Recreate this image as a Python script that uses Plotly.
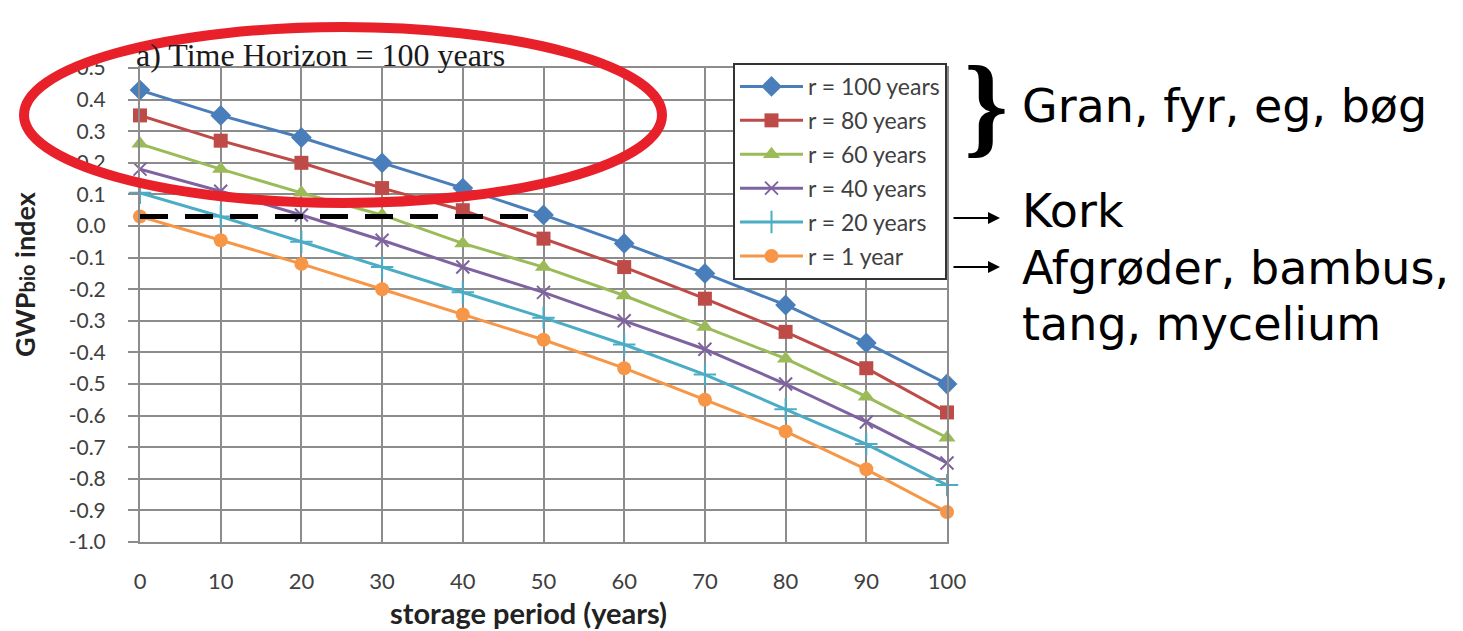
import plotly.graph_objects as go

# ---------------- data ----------------
storage_years = [0, 10, 20, 30, 40, 50, 60, 70, 80, 90, 100]

r100 = [0.43, 0.35, 0.28, 0.20, 0.12, 0.035, -0.055, -0.15, -0.25, -0.37, -0.50]
r80 = [0.35, 0.27, 0.20, 0.12, 0.05, -0.04, -0.13, -0.23, -0.335, -0.45, -0.59]
r60 = [0.26, 0.18, 0.105, 0.035, -0.055, -0.13, -0.22, -0.32, -0.42, -0.54, -0.67]
r40 = [0.18, 0.11, 0.035, -0.045, -0.13, -0.21, -0.30, -0.39, -0.50, -0.62, -0.75]
r20 = [0.105, 0.03, -0.05, -0.13, -0.21, -0.29, -0.375, -0.47, -0.58, -0.69, -0.82]
r1 = [0.03, -0.045, -0.12, -0.20, -0.28, -0.36, -0.45, -0.55, -0.65, -0.77, -0.905]

series_names = ["r = 100 years", "r = 80 years", "r = 60 years",
                "r = 40 years", "r = 20 years", "r = 1 year"]

kork_x = [0, 50]
kork_y = [0.03, 0.03]

y_tick_vals = [0.5, 0.4, 0.3, 0.2, 0.1, 0.0, -0.1, -0.2, -0.3, -0.4,
               -0.5, -0.6, -0.7, -0.8, -0.9, -1.0]
y_tick_text = ["0.5", "0.4", "0.3", "0.2", "0.1", "0.0", "-0.1", "-0.2", "-0.3",
               "-0.4", "-0.5", "-0.6", "-0.7", "-0.8", "-0.9", "-1.0"]
x_tick_vals = [0, 10, 20, 30, 40, 50, 60, 70, 80, 90, 100]
x_tick_text = ["0", "10", "20", "30", "40", "50", "60", "70", "80", "90", "100"]

title_text = "a) Time Horizon = 100 years"
x_title = "storage period (years)"
y_title = "<b>GWP<span style='font-size:20px'>bio</span> index</b>"
note_wood = "Gran, fyr, eg, bøg"
note_cork = "Kork"
note_crops_1 = "Afgrøder, bambus,"
note_crops_2 = "tang, mycelium"

# ---------------- styles ----------------
colors = ["#4A7EBB", "#BE4B48", "#9BBB59", "#7F63A1", "#4BACC6", "#F79646"]
symbols = ["diamond", "square", "triangle-up", "x-thin-open", "cross-thin-open", "circle"]
sizes = [16, 14, 15, 13, 16, 14]

FONT = "Lato"
NOTE_FONT = "DejaVu Sans"
grid_color = "#8C8C8C"

W, H = 1463, 631
L, R, T, B = 140, 516, 68, 89
PW, PH = W - L - R, H - T - B


def px(xpix):
    return (xpix - L) / PW


def py(ypix):
    return (H - B - ypix) / PH


fig = go.Figure()

all_series = [r100, r80, r60, r40, r20, r1]
for i, (name, vals) in enumerate(zip(series_names, all_series)):
    thin = symbols[i].endswith("-open")
    fig.add_trace(go.Scatter(
        x=storage_years, y=vals, name=name, mode="lines+markers",
        legendgroup=f"g{i}",
        line=dict(color=colors[i], width=3),
        marker=dict(symbol=symbols[i], size=sizes[i], color=colors[i],
                    line=dict(color=colors[i], width=2 if thin else 0)),
        cliponaxis=False,
    ))

fig.add_trace(go.Scatter(
    x=kork_x, y=kork_y, mode="lines", showlegend=False,
    line=dict(color="black", width=5, dash="28px,17px"),
    cliponaxis=False,
))

fig.update_layout(
    width=W, height=H,
    paper_bgcolor="white", plot_bgcolor="white",
    margin=dict(l=L, r=R, t=T, b=B),
    font=dict(family=FONT, color="#404040"),
    legend=dict(
        x=1.0, xanchor="right", y=py(63), yanchor="top",
        bgcolor="white", bordercolor="#333333", borderwidth=2,
        font=dict(family=FONT, size=23, color="#404040"),
        tracegroupgap=1, itemwidth=63,
    ),
    showlegend=True,
)

fig.update_xaxes(
    range=[0, 100], tickvals=x_tick_vals, ticktext=x_tick_text,
    showgrid=True, gridcolor=grid_color, gridwidth=2,
    showline=True, mirror=True, linecolor=grid_color, linewidth=2,
    zeroline=False, ticks="", ticklabelstandoff=19,
    tickfont=dict(family=FONT, size=22, color="#404040"),
)
fig.update_yaxes(
    range=[-1.0, 0.5], tickvals=y_tick_vals, ticktext=y_tick_text,
    showgrid=True, gridcolor=grid_color, gridwidth=2,
    showline=True, mirror=True, linecolor=grid_color, linewidth=2,
    zeroline=False, ticks="outside", ticklen=10, tickwidth=2, tickcolor=grid_color,
    ticklabelstandoff=18,
    tickfont=dict(family=FONT, size=21, color="#404040"),
)

# title
fig.add_annotation(text=title_text, xref="paper", yref="paper",
                   x=px(134), y=py(55), xanchor="left", yanchor="middle", showarrow=False,
                   font=dict(family="Liberation Serif", size=32, color="#1a1a1a"))
# axis titles
fig.add_annotation(text=f"<b>{x_title}</b>", xref="paper", yref="paper",
                   x=px(528), y=py(612), xanchor="center", yanchor="middle", showarrow=False,
                   font=dict(family=FONT, size=29, color="#222222"))
fig.add_annotation(text=y_title, xref="paper", yref="paper", textangle=-90,
                   x=px(24), y=py(274), xanchor="center", yanchor="middle", showarrow=False,
                   font=dict(family=FONT, size=27, color="#222222"))

# red ellipse highlight
fig.add_shape(type="circle", xref="paper", yref="paper",
              x0=px(24), x1=px(662), y0=py(203), y1=py(27),
              line=dict(color="#E8202A", width=10), layer="above")

# right-side notes
fig.add_annotation(text="<b>}</b>", xref="paper", yref="paper",
                   x=px(962), y=py(105), xanchor="left", yanchor="middle", showarrow=False,
                   font=dict(family="Liberation Serif", size=112, color="black"))
fig.add_annotation(text=note_wood, xref="paper", yref="paper",
                   x=px(1020), y=py(106), xanchor="left", yanchor="middle", showarrow=False,
                   font=dict(family=NOTE_FONT, size=46, color="black"))
fig.add_annotation(text=note_cork, xref="paper", yref="paper",
                   x=px(1020), y=py(211), xanchor="left", yanchor="middle", showarrow=False,
                   font=dict(family=NOTE_FONT, size=46, color="black"))
fig.add_annotation(text=note_crops_1, xref="paper", yref="paper",
                   x=px(1020), y=py(268), xanchor="left", yanchor="middle", showarrow=False,
                   font=dict(family=NOTE_FONT, size=46, color="black"))
fig.add_annotation(text=note_crops_2, xref="paper", yref="paper",
                   x=px(1020), y=py(324), xanchor="left", yanchor="middle", showarrow=False,
                   font=dict(family=NOTE_FONT, size=46, color="black"))
# arrows
for ypix in [218, 267]:
    fig.add_annotation(text="", xref="paper", yref="paper",
                       x=px(1000), y=py(ypix),
                       ax=-48, ay=0, showarrow=True,
                       arrowhead=2, arrowsize=1.2, arrowwidth=2, arrowcolor="black")

fig.write_html("out.html", config={"displayModeBar": False},
               post_script="document.body.style.margin='0px';")
